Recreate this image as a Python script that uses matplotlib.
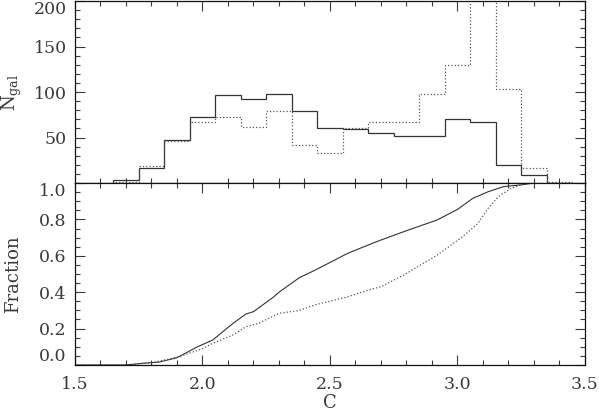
import numpy as np
import matplotlib
matplotlib.use("Agg")
import matplotlib.pyplot as plt
from matplotlib.ticker import MultipleLocator

plt.rcParams["font.family"] = ["DejaVu Serif"]
plt.rcParams["mathtext.default"] = "regular"

# histogram (bins of width 0.1)
bin_edges = [1.65, 1.75, 1.85, 1.95, 2.05, 2.15, 2.25, 2.35, 2.45, 2.55,
             2.65, 2.75, 2.85, 2.95, 3.05, 3.15, 3.25, 3.35, 3.45]
n_solid = [3, 16.5, 47, 72.5, 97, 92, 97.5, 79, 60, 59.5,
           55.5, 51.5, 51.5, 70.5, 67.5, 20, 9, 0]
n_dotted = [1, 19, 46, 66.5, 72, 61.5, 79, 42, 33.5, 60,
            66.5, 67.5, 98, 130, 260, 103, 16, 1.5]

# cumulative fractions
c_solid = [1.50, 1.70, 1.77, 1.83, 1.90, 1.94, 1.98, 2.04, 2.12, 2.17, 2.20,
           2.28, 2.30, 2.38, 2.44, 2.57, 2.66, 2.70, 2.79, 2.92, 3.00, 3.06,
           3.12, 3.18, 3.25, 3.30]
f_solid = [0.0, 0.0, 0.01, 0.016, 0.04, 0.07, 0.10, 0.137, 0.229, 0.28, 0.293,
           0.375, 0.40, 0.48, 0.52, 0.614, 0.665, 0.687, 0.733, 0.797, 0.855, 0.916,
           0.952, 0.98, 0.99, 1.0]
c_dotted = [1.50, 1.70, 1.80, 1.91, 2.00, 2.04, 2.12, 2.17, 2.22, 2.30, 2.38,
            2.44, 2.57, 2.66, 2.70, 2.79, 2.92, 3.02, 3.08, 3.12, 3.16, 3.21,
            3.26, 3.30]
f_dotted = [0.0, 0.0, 0.012, 0.046, 0.09, 0.119, 0.165, 0.21, 0.229, 0.284, 0.30,
            0.33, 0.375, 0.416, 0.43, 0.495, 0.604, 0.705, 0.778, 0.861, 0.925, 0.971,
            0.995, 1.0]

txt = "#3a3a3a"
fig = plt.figure(figsize=(5.99, 4.19), dpi=100)
ax1 = fig.add_axes([0.1252, 0.5632, 0.8514, 0.4344])
ax2 = fig.add_axes([0.1252, 0.1289, 0.8514, 0.4343], sharex=ax1)

ax1.stairs(n_solid, bin_edges, color="#333333", lw=0.9)
ax1.stairs(n_dotted, bin_edges, color="#555555", lw=0.9, ls=":")
ax2.plot(c_solid, f_solid, color="#333333", lw=0.8)
ax2.plot(c_dotted, f_dotted, color="#555555", lw=0.9, ls=":")

ax1.set_xlim(1.5, 3.5)
ax1.set_ylim(0, 200)
ax2.set_ylim(0, 1.0)

ax1.yaxis.set_major_locator(MultipleLocator(50))
ax1.yaxis.set_minor_locator(MultipleLocator(10))
ax2.yaxis.set_major_locator(MultipleLocator(0.2))
ax2.yaxis.set_minor_locator(MultipleLocator(0.05))
ax2.xaxis.set_major_locator(MultipleLocator(0.5))
ax2.xaxis.set_minor_locator(MultipleLocator(0.1))

for ax in (ax1, ax2):
    ax.tick_params(which="both", direction="in", right=True, top=True,
                   colors=txt, labelsize=12.5, pad=6)
    ax.tick_params(which="major", length=7, width=0.8)
    ax.tick_params(which="minor", length=3.5, width=0.8)
    for s in ax.spines.values():
        s.set_linewidth(0.9)
        s.set_color("#111111")
ax1.tick_params(axis="x", bottom=False, labelbottom=False)

ax1.set_yticks([50, 100, 150, 200])
ax1.set_yticklabels(["50", "100", "150", "200"])
ax1.get_yticklabels()[-1].set_va("top")
ax2.set_yticks([0.0, 0.2, 0.4, 0.6, 0.8, 1.0])
ax2.set_yticklabels(["0.0", "0.2", "0.4", "0.6", "0.8", "1.0"])
ax2.get_yticklabels()[-1].set_va("top")
ax2.get_yticklabels()[0].set_va("bottom")
ax2.set_xticks([1.5, 2.0, 2.5, 3.0, 3.5])
ax2.set_xticklabels(["1.5", "2.0", "2.5", "3.0", "3.5"])
ax2.tick_params(axis="x", pad=8)

ax1.set_ylabel(r"N$_{gal}$", fontsize=13, color=txt)
ax2.set_ylabel("Fraction", fontsize=13, color=txt)
ax1.yaxis.set_label_coords(-0.100, 0.5)
ax2.yaxis.set_label_coords(-0.104, 0.5)
ax2.set_xlabel("C", fontsize=13, color=txt, labelpad=1)

fig.savefig("out.png", dpi=100)
